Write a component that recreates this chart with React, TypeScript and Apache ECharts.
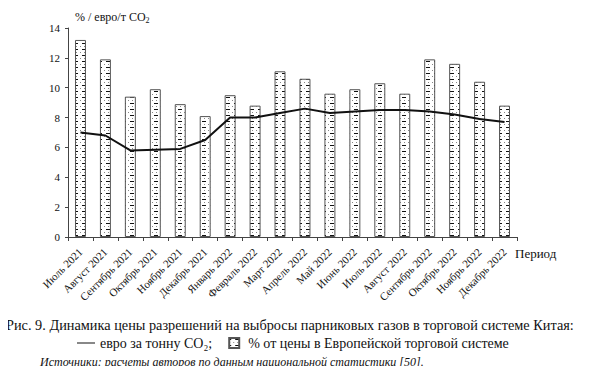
import React, { useEffect, useRef } from "react";
import * as echarts from "echarts";

const categories = [
  "Июль 2021", "Август 2021", "Сентябрь 2021", "Октябрь 2021", "Ноябрь 2021", "Декабрь 2021",
  "Январь 2022", "Февраль 2022", "Март 2022", "Апрель 2022", "Май 2022", "Июнь 2022",
  "Июль 2022", "Август 2022", "Сентябрь 2022", "Октябрь 2022", "Ноябрь 2022", "Декабрь 2022",
];
const percentOfEU = [13.2, 11.9, 9.4, 9.9, 8.9, 8.1, 9.5, 8.8, 11.1, 10.6, 9.6, 9.9, 10.3, 9.6, 11.9, 11.6, 10.4, 8.8];
const euroPerTon = [7.0, 6.8, 5.8, 5.85, 5.9, 6.5, 8.0, 8.0, 8.3, 8.6, 8.3, 8.4, 8.5, 8.5, 8.4, 8.2, 7.9, 7.7];

const SERIF = "Liberation Serif";

function makePattern(): string {
  const c = document.createElement("canvas");
  c.width = 8;
  c.height = 6;
  const ctx = c.getContext("2d")!;
  ctx.fillStyle = "#ffffff";
  ctx.fillRect(0, 0, 8, 6);
  ctx.fillStyle = "#111111";
  ctx.fillRect(2, 1, 4, 1);
  ctx.fillStyle = "#888888";
  ctx.fillRect(0, 4, 1, 1);
  ctx.fillRect(4, 4, 1, 1);
  return c.toDataURL();
}

export default function App() {
  const ref = useRef<HTMLDivElement>(null);
  useEffect(() => {
    if (!ref.current) return;
    const chart = echarts.init(ref.current, undefined, { renderer: "svg" });
    const pattern = makePattern();
    chart.setOption({
      animation: false,
      backgroundColor: "#ffffff",
      textStyle: { fontFamily: SERIF, color: "#111" },
      grid: { left: 68, right: 73, top: 28, bottom: 137, containLabel: false },
      legend: {
        top: 331,
        left: 72,
        itemGap: 16,
        itemWidth: 18,
        itemHeight: 10,
        textStyle: { fontFamily: SERIF, fontSize: 14, color: "#111" },
        data: [
          { name: "евро за тонну CO₂;", icon: "path://M0,5 L18,5 L18,6 L0,6 Z" },
          { name: "% от цены в Европейской торговой системе", icon: "path://M0,0 L10,0 L10,10 L0,10 Z" },
        ],
      },
      xAxis: {
        type: "category",
        data: categories,
        boundaryGap: true,
        name: "Период",
        nameLocation: "end",
        nameGap: -2,
        nameTextStyle: { fontFamily: SERIF, fontSize: 13, color: "#111", align: "left", verticalAlign: "top", padding: [10, 0, 0, 0] },
        axisLine: { lineStyle: { color: "#444", width: 1 } },
        axisTick: { show: true, length: 4, lineStyle: { color: "#444" } },
        axisLabel: {
          interval: 0,
          rotate: 45,
          fontFamily: SERIF,
          fontSize: 11,
          color: "#111",
          margin: 13,
        },
        splitLine: { show: false },
      },
      yAxis: {
        type: "value",
        min: 0,
        max: 14,
        interval: 2,
        name: "{a|% / евро/т CO}{s|2}",
        nameLocation: "end",
        nameGap: 4,
        nameTextStyle: {
          align: "left",
          padding: [0, 0, 0, 7],
          rich: {
            a: { fontFamily: SERIF, fontSize: 12, color: "#111" },
            s: { fontFamily: SERIF, fontSize: 8, color: "#111", padding: [6, 0, 0, 0] },
          },
        },
        axisLine: { show: true, lineStyle: { color: "#444", width: 1 } },
        axisTick: { show: true, length: 3, lineStyle: { color: "#444" } },
        axisLabel: { fontFamily: SERIF, fontSize: 11, color: "#111", margin: 8 },
        splitLine: { show: false },
      },
      series: [
        {
          name: "% от цены в Европейской торговой системе",
          type: "bar",
          data: percentOfEU,
          barWidth: "44%",
          itemStyle: {
            color: { image: pattern, repeat: "repeat" },
            borderColor: "#555",
            borderWidth: 1,
          },
          z: 2,
        },
        {
          name: "евро за тонну CO₂;",
          type: "line",
          data: euroPerTon,
          symbol: "none",
          lineStyle: { color: "#111", width: 2 },
          itemStyle: { color: "#111" },
          z: 3,
        },
      ],
      graphic: [
        {
          type: "text",
          left: 6,
          top: 318,
          style: {
            text: "Рис. 9. Динамика цены разрешений на выбросы парниковых газов в торговой системе Китая:",
            fontFamily: SERIF,
            fontSize: 14.3,
            fill: "#111",
          },
        },
        {
          type: "text",
          left: 40,
          top: 356,
          style: {
            text: "Источники: расчеты авторов по данным национальной статистики [50].",
            fontFamily: SERIF,
            fontStyle: "italic",
            fontSize: 12,
            fill: "#111",
          },
        },
      ],
    });
    return () => chart.dispose();
  }, []);
  return <div ref={ref} style={{ width: 590, height: 374, margin: -8 }} />;
}
